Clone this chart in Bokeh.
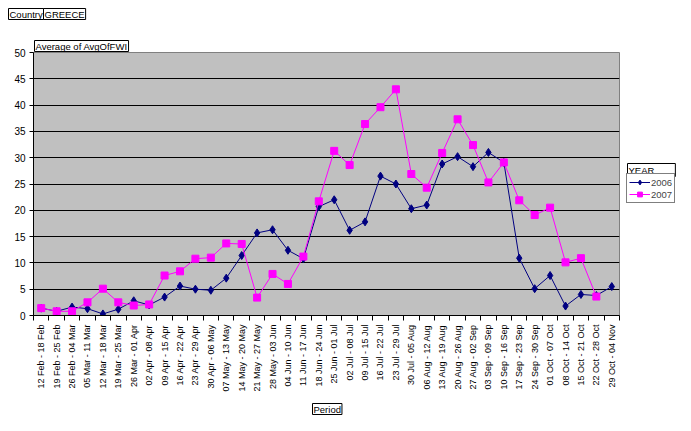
import numpy as np
from bokeh.plotting import figure
from bokeh.layouts import column, row
from bokeh.models import Range1d, FixedTicker, Legend, LegendItem, Label
from bokeh.embed import file_html
from bokeh.resources import INLINE

periods = [
    "12 Feb - 18 Feb", "19 Feb - 25 Feb", "26 Feb - 04 Mar", "05 Mar - 11 Mar",
    "12 Mar - 18 Mar", "19 Mar - 25 Mar", "26 Mar - 01 Apr", "02 Apr - 08 Apr",
    "09 Apr - 15 Apr", "16 Apr - 22 Apr", "23 Apr - 29 Apr", "30 Apr - 06 May",
    "07 May - 13 May", "14 May - 20 May", "21 May - 27 May", "28 May - 03 Jun",
    "04 Jun - 10 Jun", "11 Jun - 17 Jun", "18 Jun - 24 Jun", "25 Jun - 01 Jul",
    "02 Jul - 08 Jul", "09 Jul - 15 Jul", "16 Jul - 22 Jul", "23 Jul - 29 Jul",
    "30 Jul - 05 Aug", "06 Aug - 12 Aug", "13 Aug - 19 Aug", "20 Aug - 26 Aug",
    "27 Aug - 02 Sep", "03 Sep - 09 Sep", "10 Sep - 16 Sep", "17 Sep - 23 Sep",
    "24 Sep - 30 Sep", "01 Oct - 07 Oct", "08 Oct - 14 Oct", "15 Oct - 21 Oct",
    "22 Oct - 28 Oct", "29 Oct - 04 Nov",
]

fwi_2006 = [1.4, 0.8, 1.6, 1.3, 0.3, 1.2, 2.8, 2.0, 3.5, 5.6,
            5.0, 4.8, 7.1, 11.4, 15.7, 16.3, 12.4, 10.8, 20.7, 22.0,
            16.2, 17.8, 26.5, 25.0, 20.3, 21.0, 28.8, 30.2, 28.3, 31.0,
            29.1, 10.9, 5.1, 7.6, 1.8, 4.0, 3.8, 5.5]

fwi_2007 = [1.4, 0.8, 0.8, 2.5, 5.1, 2.5, 1.9, 2.1, 7.6, 8.4,
            10.8, 11.0, 13.7, 13.6, 3.4, 7.9, 6.0, 11.2, 21.7, 31.3,
            28.6, 36.4, 39.6, 43.0, 26.9, 24.3, 30.9, 37.3, 32.4, 25.3,
            29.1, 21.9, 19.1, 20.5, 10.1, 10.9, 3.6]

y_ticks = [0, 5, 10, 15, 20, 25, 30, 35, 40, 45, 50]
years = ["2006", "2007"]
colors = ["#000080", "#FF00FF"]
measure_label = "Average of AvgOfFWI"
FONT = "Liberation Sans"
FS = "9.5px"
PAD = dict(left=1, right=1, top=0, bottom=0)

n = len(periods)
x06 = list(range(len(fwi_2006)))
x07 = list(range(len(fwi_2007)))


def blank(w, h, xr, yr):
    f = figure(width=w, height=h, output_backend="svg", toolbar_location=None,
               x_range=Range1d(*xr), y_range=Range1d(*yr),
               x_axis_location=None, y_axis_location=None,
               min_border=0, min_border_left=0, min_border_right=0,
               min_border_top=0, min_border_bottom=0)
    f.grid.visible = False
    f.outline_line_color = None
    f.background_fill_color = "white"
    f.border_fill_color = "white"
    return f


def boxed(text, x, y, pad=PAD):
    return Label(x=x, y=y, text=text,
                 text_font=FONT, text_font_size=FS, text_color="black",
                 text_align="left", text_baseline="top",
                 border_line_color="black", border_line_width=1,
                 background_fill_color="white", padding=pad)


# ---- header (canvas coordinates 0..691 x 0..52) ----
header = blank(691, 52, (0, 691), (52, 0))
header.add_layout(boxed("Country", 8, 8))
header.add_layout(boxed("GREECE", 43, 8))
header.add_layout(boxed(measure_label, 34, 40))

# ---- main chart (its transparent top border overlaps the header by 20 px) ----
p = figure(width=624, height=368, output_backend="svg", toolbar_location=None,
           x_range=Range1d(-0.5, n - 0.5), y_range=Range1d(y_ticks[0], y_ticks[-1]),
           min_border_left=33, min_border_right=5, min_border_top=20,
           min_border_bottom=85)

p.background_fill_color = "#C0C0C0"
p.border_fill_alpha = 0
p.outline_line_color = "#808080"
p.outline_line_width = 1
p.xgrid.visible = False
p.ygrid.ticker = FixedTicker(ticks=y_ticks[1:-1])
p.ygrid.grid_line_color = "black"
p.ygrid.grid_line_width = 1

xa = p.xaxis[0]
xa.ticker = FixedTicker(ticks=list(range(n)), minor_ticks=[i - 0.5 for i in range(n + 1)])
xa.major_label_overrides = {i: lab for i, lab in enumerate(periods)}
xa.major_label_orientation = np.pi / 2
xa.major_tick_out = 0
xa.major_tick_in = 0
xa.minor_tick_out = 5
xa.minor_tick_in = 0
xa.minor_tick_line_color = "black"
xa.axis_line_color = "black"
xa.major_label_text_font = FONT
xa.major_label_text_font_size = "9px"
xa.major_label_text_color = "black"
xa.major_label_standoff = 4

ya = p.yaxis[0]
ya.ticker = FixedTicker(ticks=y_ticks)
ya.major_tick_out = 4
ya.major_tick_in = 0
ya.minor_tick_out = 0
ya.minor_tick_in = 0
ya.axis_line_color = "black"
ya.major_tick_line_color = "black"
ya.major_label_text_font = FONT
ya.major_label_text_font_size = "10px"
ya.major_label_text_color = "black"
ya.major_label_standoff = 4

p.line(x06, fwi_2006, line_color=colors[0], line_width=1)
p.scatter(x06, fwi_2006, marker="diamond", size=8, color=colors[0])
p.line(x07, fwi_2007, line_color=colors[1], line_width=1)
p.scatter(x07, fwi_2007, marker="square", size=7, color=colors[1])

# ---- side panel with legend (its frame is aligned with the chart frame:
#      canvas x 624..691, y 52..315) ----
side = blank(67, 368, (624, 691), (315, 52))
side.border_fill_alpha = 0
g06 = [side.line(x06, fwi_2006, line_color=colors[0], line_width=1),
       side.scatter(x06, fwi_2006, marker="diamond", size=8, color=colors[0])]
g07 = [side.line(x07, fwi_2007, line_color=colors[1], line_width=1),
       side.scatter(x07, fwi_2007, marker="square", size=7, color=colors[1])]
side.add_layout(boxed("YEAR", 627, 163, pad=dict(left=1, right=21, top=1, bottom=1)))
legend = Legend(items=[LegendItem(label=years[0], renderers=g06),
                       LegendItem(label=years[1], renderers=g07)],
                location=(2, 112), orientation="vertical",
                border_line_color="black", border_line_width=1,
                background_fill_color="white", background_fill_alpha=1,
                glyph_width=21, glyph_height=12, label_height=12, label_width=20,
                label_standoff=1, padding=2, spacing=0, margin=0,
                label_text_font=FONT, label_text_font_size=FS)
side.add_layout(legend)

# ---- footer (canvas y 400..431) ----
footer = blank(691, 31, (0, 691), (431, 400))
footer.add_layout(boxed("Period", 312, 403))

layout = column(header, row(p, side, margin=(-20, 0, 0, 0)), footer)
open("out.html", "w").write(file_html(layout, INLINE))
